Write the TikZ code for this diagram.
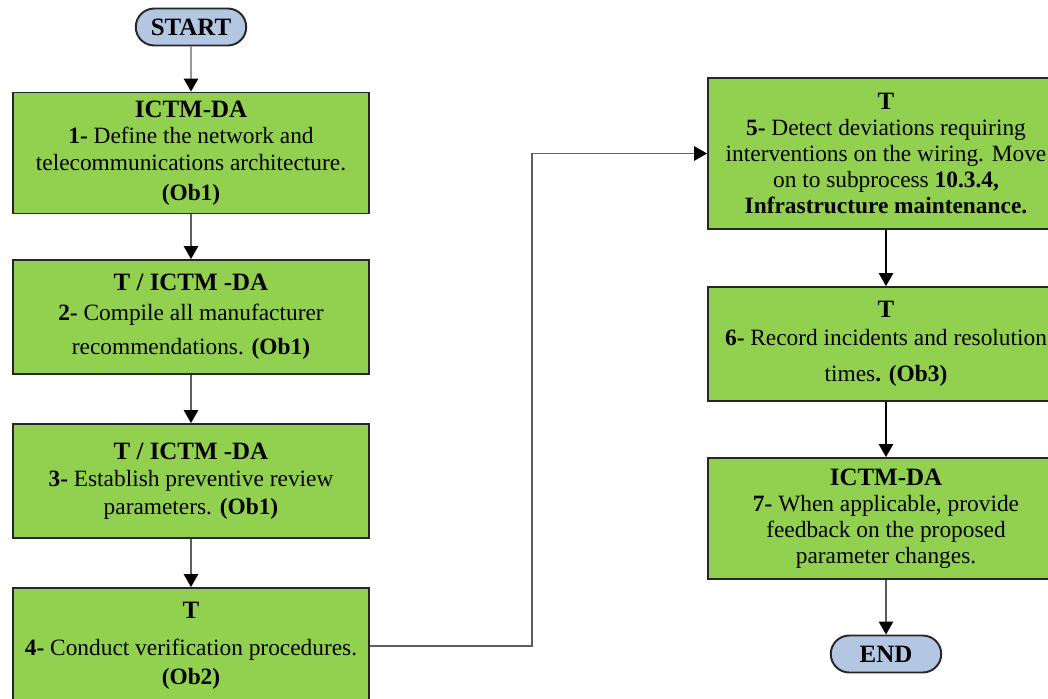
\documentclass[tikz,border=0pt]{standalone}
\usepackage{fontspec}
\setmainfont{Liberation Serif}
\usetikzlibrary{arrows.meta,shapes.misc}

\definecolor{boxgreen}{RGB}{146,208,80}
\definecolor{termblue}{RGB}{180,199,226}
\definecolor{linegray}{RGB}{95,95,95}

\newcommand{\hd}[1]{{\fontsize{14.2}{16}\selectfont\bfseries #1}}

\begin{document}
\begin{tikzpicture}[x=0.02cm,y=-0.02cm,
  stepbox/.style={draw=black!85, line width=1.1pt, fill=boxgreen,
    minimum width=7.12cm, align=center, inner sep=2pt,
    font=\fontsize{13.3}{14.8}\selectfont},
  terminal/.style={rounded rectangle, draw=black!85, line width=1.1pt,
    fill=termblue, minimum width=2.28cm, minimum height=0.74cm,
    inner sep=1pt, font=\fontsize{14.2}{16}\selectfont\bfseries},
  conn/.style={line width=0.7pt,
    -{Triangle[length=0.26cm,width=0.29cm,color=black]}},
]
\useasboundingbox (0,0) rectangle (1048,698);
\clip (0,0) rectangle (1048,698);

% left column
\node[terminal] (start) at (191,27) {START};
\node[stepbox, minimum height=2.42cm] (b1) at (191,153)
  {\hd{ICTM-DA}\\ \textbf{1-} Define the network and\\[1pt]
   telecommunications architecture.\\[2pt] \textbf{(Ob1)}};
\node[stepbox, minimum height=2.28cm] (b2) at (191,317)
  {\hd{T / ICTM -DA}\\[2pt] \textbf{2-} Compile all manufacturer\\[5pt]
   recommendations. \textbf{(Ob1)}};
\node[stepbox, minimum height=2.28cm] (b3) at (191,481)
  {\hd{T / ICTM -DA}\\[1pt] \textbf{3-} Establish preventive review\\[1pt]
   parameters. \textbf{(Ob1)}};
\node[stepbox, minimum height=2.32cm] (b4) at (191,646)
  {\hd{T}\\[6pt] \textbf{4-} Conduct verification procedures.\\[2pt]
   \textbf{(Ob2)}};

% right column
\node[stepbox, minimum height=3.02cm] (b5) at (886,153.5)
  {\hd{T}\\ \textbf{5-} Detect deviations requiring\\
   interventions on the wiring. Move\\
   on to subprocess \textbf{10.3.4,}\\
   \textbf{Infrastructure maintenance.}};
\node[stepbox, minimum height=2.28cm] (b6) at (886,344)
  {\hd{T}\\[1pt] \textbf{6-} Record incidents and resolution\\[6pt]
   times\textbf{. (Ob3)}};
\node[stepbox, minimum height=2.42cm] (b7) at (886,518.5)
  {\hd{ICTM-DA}\\ \textbf{7-} When applicable, provide\\
   feedback on the proposed\\ parameter changes.};
\node[terminal] (end) at (886,654) {END};

% connectors
\coordinate (bend) at (532,0);
\draw[conn, draw=linegray] (start) -- (b1);
\draw[conn, draw=linegray] (b1) -- (b2);
\draw[conn, draw=linegray] (b2) -- (b3);
\draw[conn, draw=linegray] (b3) -- (b4);
\draw[conn, draw=linegray] (b4.east) -- (b4.east -| bend) |- (b5.west);
\draw[conn] (b5) -- (b6);
\draw[conn] (b6) -- (b7);
\draw[conn] (b7) -- (end);
\end{tikzpicture}
\end{document}
